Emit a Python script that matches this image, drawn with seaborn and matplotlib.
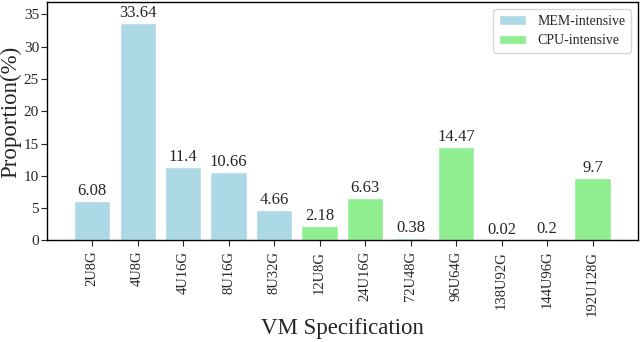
import matplotlib
matplotlib.use("Agg")
import matplotlib.pyplot as plt
import seaborn as sns
import pandas as pd

# VM specifications and their share of the fleet
specs = ["2U8G", "4U8G", "4U16G", "8U16G", "8U32G", "12U8G", "24U16G",
         "72U48G", "96U64G", "138U92G", "144U96G", "192U128G"]
proportions = [6.08, 33.64, 11.4, 10.66, 4.66, 2.18, 6.63, 0.38, 14.47, 0.02, 0.2, 9.7]
labels = ["6.08", "33.64", "11.4", "10.66", "4.66", "2.18", "6.63", "0.38",
          "14.47", "0.02", "0.2", "9.7"]
workload = ["MEM-intensive"] * 5 + ["CPU-intensive"] * 7
yticks = [0, 5, 10, 15, 20, 25, 30, 35]

data = pd.DataFrame({"VM Specification": specs, "Proportion": proportions, "Type": workload})

sns.set_style("white")
plt.rcParams["font.family"] = ["Liberation Serif", "DejaVu Serif"]

fig, ax = plt.subplots(figsize=(6.4, 3.42), dpi=100)
sns.barplot(data=data, x="VM Specification", y="Proportion", hue="Type",
            dodge=False, width=0.8, saturation=1,
            palette={"MEM-intensive": "lightblue", "CPU-intensive": "lightgreen"},
            ax=ax)

# value labels above bars
for i, (v, t) in enumerate(zip(proportions, labels)):
    ax.text(i, v + 0.3, t, ha="center", va="bottom", fontsize=12)

ax.set_xlim(-1, 12)
ax.set_ylim(0, 36.9)
ax.set_yticks(yticks)
ax.set_xlabel("VM Specification", fontsize=16.5)
ax.xaxis.set_label_coords(0.5, -0.325)
ax.set_ylabel("Proportion(%)", fontsize=16.5)
ax.yaxis.set_label_coords(-0.043, 0.54)
ax.tick_params(axis="x", labelrotation=90, labelsize=10.5, length=4, width=0.8, direction="out", bottom=True)
ax.tick_params(axis="y", labelsize=11, length=4, width=0.8, direction="out", left=True, pad=1.5)
for s in ax.spines.values():
    s.set_color("black")
    s.set_linewidth(1.0)

ax.legend(loc="upper right", fontsize=10, title=None, frameon=True)
fig.subplots_adjust(left=0.073, right=0.997, top=0.994, bottom=0.297)
fig.savefig("out.png", dpi=100)
